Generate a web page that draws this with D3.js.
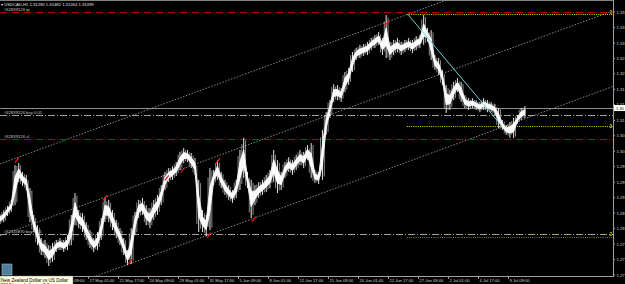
<!DOCTYPE html>
<html>
<head>
<meta charset="utf-8">
<script src="https://cdn.jsdelivr.net/npm/d3@7"></script>
<style>
  body { margin: 0; background: #000; overflow: hidden; }
  svg { display: block; font-family: "Liberation Sans", Arial, sans-serif; }
</style>
</head>
<body>
<svg id="chart" width="625" height="284"></svg>
<script>
// USDCAD H1 bars, 8 bars per sample (high / low)
let highs = [1.2859,1.2870,1.2881,1.2897,1.2989,1.2994,1.2971,1.2963,1.2928,1.2857,
  1.2830,1.2796,1.2791,1.2777,1.2783,1.2791,1.2796,1.2791,1.2804,1.2857,
  1.2915,1.2870,1.2862,1.2838,1.2817,1.2796,1.2812,1.2849,1.2902,1.2897,
  1.2870,1.2844,1.2822,1.2796,1.2764,1.2822,1.2865,1.2897,1.2902,1.2883,
  1.2875,1.2897,1.2910,1.2936,1.2971,1.2981,1.2986,1.2997,1.3024,1.3034,
  1.3029,1.3021,1.3008,1.2950,1.2870,1.2857,1.2981,1.2976,1.3002,1.2971,
  1.2950,1.2936,1.2923,1.2950,1.3029,1.3061,1.2971,1.2950,1.2936,1.2944,
  1.2950,1.2963,1.2976,1.3029,1.3002,1.2971,1.2997,1.3010,1.3002,1.3016,
  1.3029,1.3024,1.3042,1.3047,1.2976,1.2971,1.3082,1.3129,1.3161,1.3203,
  1.3201,1.3193,1.3235,1.3246,1.3288,1.3299,1.3307,1.3309,1.3315,1.3325,
  1.3333,1.3341,1.3325,1.3386,1.3315,1.3320,1.3325,1.3315,1.3320,1.3325,
  1.3320,1.3330,1.3333,1.3386,1.3352,1.3346,1.3280,1.3272,1.3241,1.3201,
  1.3188,1.3209,1.3219,1.3209,1.3174,1.3166,1.3166,1.3161,1.3156,1.3166,
  1.3161,1.3156,1.3151,1.3140,1.3108,1.3095,1.3103,1.3114,1.3121,1.3140,
  1.3145];
let lows = [1.2833,1.2838,1.2854,1.2865,1.2883,1.2944,1.2934,1.2923,1.2838,1.2812,
  1.2777,1.2751,1.2743,1.2722,1.2733,1.2759,1.2764,1.2759,1.2764,1.2777,
  1.2830,1.2822,1.2812,1.2791,1.2770,1.2759,1.2764,1.2791,1.2838,1.2838,
  1.2817,1.2796,1.2777,1.2751,1.2724,1.2727,1.2804,1.2849,1.2857,1.2830,
  1.2822,1.2844,1.2857,1.2883,1.2923,1.2944,1.2950,1.2960,1.2976,1.2994,
  1.2997,1.2981,1.2963,1.2812,1.2812,1.2801,1.2817,1.2936,1.2950,1.2928,
  1.2910,1.2897,1.2889,1.2902,1.2923,1.2955,1.2928,1.2849,1.2883,1.2902,
  1.2910,1.2918,1.2928,1.2944,1.2915,1.2923,1.2955,1.2971,1.2963,1.2976,
  1.2989,1.2981,1.3002,1.2955,1.2942,1.2939,1.2950,1.3069,1.3114,1.3156,
  1.3161,1.3156,1.3182,1.3201,1.3235,1.3267,1.3272,1.3278,1.3280,1.3293,
  1.3299,1.3307,1.3280,1.3272,1.3267,1.3280,1.3288,1.3280,1.3288,1.3293,
  1.3285,1.3293,1.3299,1.3307,1.3315,1.3267,1.3241,1.3227,1.3201,1.3127,
  1.3135,1.3161,1.3182,1.3156,1.3140,1.3135,1.3140,1.3135,1.3129,1.3135,
  1.3129,1.3129,1.3121,1.3087,1.3082,1.3069,1.3061,1.3061,1.3098,1.3108,
  1.3114];
let barsPerSample = 8;

// time axis
let timeLabels = ['14 May 09:00','17 May 01:00','21 May 17:00','24 May 09:00','29 May 01:00',
  '31 May 17:00','5 Jun 09:00','8 Jun 01:00','12 Jun 17:00','15 Jun 09:00','20 Jun 01:00',
  '22 Jun 17:00','27 Jun 09:00','2 Jul 01:00','4 Jul 17:00','9 Jul 09:00'];
let labelBars = [124,188,252,316,380,444,508,572,636,700,764,828,892,956,1020,1084];

// price axis
let priceTicks = [1.33939,1.33532,1.33125,1.32718,1.32311,1.31904,1.31497,1.31090,1.30683,
  1.30276,1.29869,1.29462,1.29055,1.28648,1.28241,1.27834,1.27427,1.27020];
let bidPrice = 1.31399;

// order / level lines
let levelNames = ['#62839126 tp', '', '', '#62839126 buy 0.01', '', '#62839126 sl', '#62115870 buy 0.01', ''];
let levelPrices = [1.3393, 1.3388, bidPrice, 1.3121, 1.3092, 1.3057, 1.2806, 1.2798];
let levelKinds = ['tp', 'tpDot', 'bid', 'buy', 'dot', 'sl', 'buy', 'dotDark'];
let levelStartBars = [0, 868, 0, 0, 868, 0, 0, 868];

// channel (three parallel rays), start and end anchors
let channelStart = [1.2992, 1.2802, 1.2602];
let channelEnd = [1.3587, 1.3397, 1.3197];
let channelBars = [0, 1308];

// trend line
let trendBars = [870, 1071];
let trendPrices = [1.3388, 1.3092];

// order history marks
let markBars = [36, 224, 277, 356, 390, 446, 465, 542, 826];
let markPrices = [1.3002, 1.2902, 1.2733, 1.2955, 1.2976, 1.2804, 1.3000, 1.2846, 1.3365];

let svg = d3.select('#chart');
let plotW = 613, plotH = 276;

let x = d3.scaleLinear().domain([0, 1308]).range([0, plotW]);
let y = d3.scaleLinear().domain([1.3386, 1.2730]).range([15, 263]);

svg.append('rect').attr('width', 625).attr('height', 284).attr('fill', '#000');

svg.append('defs').append('clipPath').attr('id', 'plot')
  .append('rect').attr('width', plotW).attr('height', plotH);

let plot = svg.append('g').attr('clip-path', 'url(#plot)');

// top border
plot.append('line').attr('x1', 0).attr('x2', plotW).attr('y1', 0.5).attr('y2', 0.5)
  .attr('stroke', '#808080');

// channel
channelStart.forEach((p, i) => {
  plot.append('line')
    .attr('x1', x(channelBars[0])).attr('y1', y(p))
    .attr('x2', x(channelBars[1])).attr('y2', y(channelEnd[i]))
    .attr('stroke', '#a8a8a8').attr('stroke-width', 0.8)
    .attr('stroke-dasharray', '1.5,1.5');
});

// horizontal levels
let styles = {
  tp: { c: '#c00000', d: '7,2,1,2' },
  sl: { c: '#c00000', d: '7,2,1,2' },
  buy: { c: '#a0a0a0', d: '7,2,1,2' },
  bid: { c: '#8c8c8c', d: null },
  tpDot: { c: '#d8d800', d: '1,1.2' },
  dot: { c: '#d8d800', d: '1,1.2' },
  dotDark: { c: '#7c8c00', d: '1,1.2' }
};
levelPrices.forEach((p, i) => {
  let s = styles[levelKinds[i]];
  plot.append('line')
    .attr('x1', x(levelStartBars[i])).attr('x2', plotW)
    .attr('y1', Math.round(y(p)) + 0.5).attr('y2', Math.round(y(p)) + 0.5)
    .attr('stroke', s.c).attr('stroke-width', 1)
    .attr('stroke-dasharray', s.d);
  if (levelNames[i]) {
    plot.append('text').text(levelNames[i])
      .attr('x', 4).attr('y', y(p) - 1.5)
      .attr('fill', '#c8c8c8').attr('font-size', 4.2);
  }
});

// price bars: a narrow body band plus the full high-low bar of each sample
let samples = highs.map((h, i) => ({ bar: i * barsPerSample, hi: h, lo: lows[i] }));
let body = d3.area()
  .x(d => x(d.bar))
  .y0(d => y(d.lo + (d.hi - d.lo) * 0.3))
  .y1(d => y(d.hi - (d.hi - d.lo) * 0.3))
  .curve(d3.curveLinear);
plot.append('path').datum(samples)
  .attr('d', body)
  .attr('fill', '#fff').attr('stroke', '#fff').attr('stroke-width', 0.9);
plot.selectAll('.bar').data(samples).enter().append('line')
  .attr('class', 'bar')
  .attr('x1', d => x(d.bar)).attr('x2', d => x(d.bar))
  .attr('y1', d => y(d.hi)).attr('y2', d => y(d.lo))
  .attr('stroke', '#fff').attr('stroke-width', 0.9);
plot.selectAll('.bar2').data(samples.slice(1)).enter().append('line')
  .attr('class', 'bar2')
  .attr('x1', d => x(d.bar - 4)).attr('x2', d => x(d.bar - 4))
  .attr('y1', (d, i) => y(Math.max(d.hi, samples[i].hi) - (d.hi - d.lo) * 0.15))
  .attr('y2', (d, i) => y(Math.min(d.lo, samples[i].lo) + (d.hi - d.lo) * 0.15))
  .attr('stroke', '#eaeaea').attr('stroke-width', 0.6);

// trend line
plot.append('line')
  .attr('x1', x(trendBars[0])).attr('y1', y(trendPrices[0]))
  .attr('x2', x(trendBars[1])).attr('y2', y(trendPrices[1]))
  .attr('stroke', '#6ccfd6').attr('stroke-width', 1);

// red history marks
plot.selectAll('.mark').data(markBars).enter().append('line')
  .attr('class', 'mark')
  .attr('x1', (b) => x(b) - 2).attr('y1', (b, i) => y(markPrices[i]) + 2.5)
  .attr('x2', (b) => x(b) + 2).attr('y2', (b, i) => y(markPrices[i]) - 2.5)
  .attr('stroke', '#ff1010').attr('stroke-width', 1.2);

// level markers on right edge
let markerText = ['1', '3', '2'];
let markerPrices = [1.3393, 1.3092, 1.2806];
markerPrices.forEach((p, i) => {
  svg.append('text').text(markerText[i])
    .attr('x', 609.5).attr('y', y(p) + 1.5)
    .attr('fill', '#d8d800').attr('font-size', 4.5).attr('font-weight', 'bold');
});

// title
svg.append('text').text('\u25BE USDCAD,H1  1.31290 1.31482 1.31264 1.31399')
  .attr('x', 1).attr('y', 6).attr('fill', '#e0e0e0').attr('font-size', 4.2);

// price axis (labels are cut by the window edge, only the first digits show)
svg.append('line').attr('x1', plotW + 0.5).attr('x2', plotW + 0.5).attr('y1', 0).attr('y2', plotH)
  .attr('stroke', '#a0a0a0');
let py = d3.scaleLinear().domain([priceTicks[0], priceTicks[priceTicks.length - 1]]).range([12, 275]);
let cut = (p) => (Math.floor(p * 100) / 100).toFixed(2);
priceTicks.forEach((p) => {
  svg.append('line').attr('x1', plotW).attr('x2', plotW + 2)
    .attr('y1', py(p)).attr('y2', py(p)).attr('stroke', '#a0a0a0');
  svg.append('text').text(cut(p))
    .attr('x', plotW + 3.5).attr('y', py(p) + 1.6)
    .attr('fill', '#d0d0d0').attr('font-size', 4.2);
});
svg.append('rect').attr('x', plotW + 1).attr('y', y(bidPrice) - 3)
  .attr('width', 11).attr('height', 6).attr('fill', '#fff');
svg.append('text').text(cut(bidPrice))
  .attr('x', plotW + 3).attr('y', y(bidPrice) + 1.6)
  .attr('fill', '#000').attr('font-size', 4.2);

// time axis
svg.append('line').attr('x1', 0).attr('x2', plotW + 1).attr('y1', plotH + 0.5).attr('y2', plotH + 0.5)
  .attr('stroke', '#a0a0a0');
labelBars.forEach((b, i) => {
  svg.append('line').attr('x1', x(b) + 0.5).attr('x2', x(b) + 0.5)
    .attr('y1', plotH).attr('y2', plotH + 3).attr('stroke', '#a0a0a0');
  svg.append('text').text(timeLabels[i])
    .attr('x', x(b) + 1.5).attr('y', plotH + 6)
    .attr('fill', '#d0d0d0').attr('font-size', 4.1);
});

// calculator icon and tooltip
svg.append('rect').attr('x', 2).attr('y', 264).attr('width', 10).attr('height', 11)
  .attr('fill', '#4f7f9f').attr('stroke', '#9bb8cc').attr('stroke-width', 0.6);
svg.append('rect').attr('x', 0).attr('y', 276).attr('width', 73).attr('height', 10)
  .attr('fill', '#ffffe1').attr('stroke', '#777').attr('stroke-width', 0.5);
svg.append('text').text('New Zealand Dollar vs US Dollar')
  .attr('x', 1).attr('y', 281.5).attr('fill', '#000').attr('font-size', 4.6);
svg.append('text').text('2018 bars, Indicator 0.0')
  .attr('x', 1).attr('y', 287).attr('fill', '#000').attr('font-size', 4.6);
</script>
</body>
</html>
